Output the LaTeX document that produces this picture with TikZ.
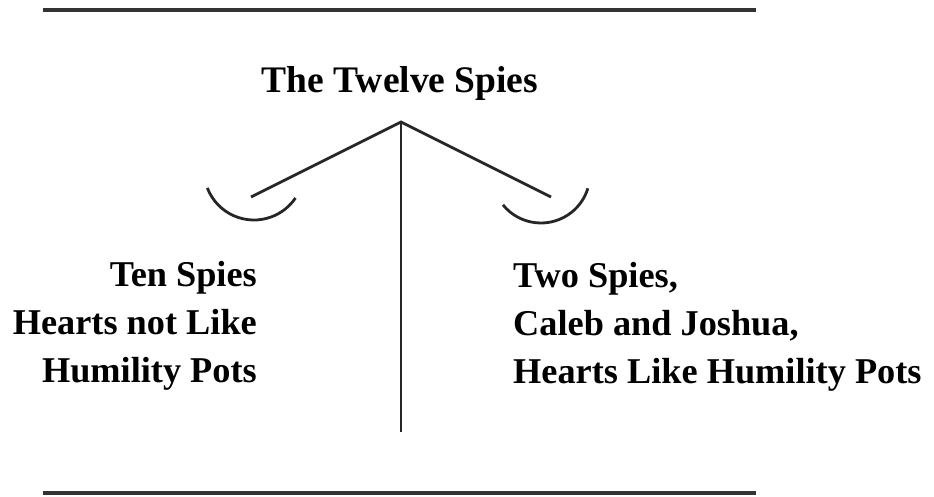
\documentclass[tikz,border=0pt]{standalone}
\usepackage{fontspec}
\setmainfont{Liberation Serif}
\begin{document}
\begin{tikzpicture}[x=1pt, y=-1pt,
    rule/.style={line width=4pt, black!80},
    beam/.style={line width=2.8pt, black!85},
    label/.style={font=\bfseries\fontsize{36.3}{48}\selectfont, inner sep=0pt}]
    \useasboundingbox (0,0) rectangle (934,496);

    % Rules above and below
    \draw[rule] (43,10) -- (756,10);
    \draw[rule] (43,493) -- (756,493);

    % Title
    \node[label, font=\bfseries\fontsize{37.5}{48}\selectfont, anchor=base] (title) at (400,92) {The Twelve Spies};

    % Balance
    \coordinate (apex) at (401,122);
    \coordinate (foot) at (401,432);
    \coordinate (leftend) at (251,197);
    \coordinate (rightend) at (551,197);
    \draw[beam] (apex) -- (foot);
    \draw[beam] (leftend) -- (apex) -- (rightend);

    % Pans
    \draw[beam] (254,170) ++(159:50) arc[start angle=159, end angle=34, radius=50];
    \draw[beam] (541,174) ++(141:49) arc[start angle=141, end angle=17, radius=49];

    % Labels for pans
    \node[label, align=right, anchor=north east] (ten) at (257,261)
        {Ten Spies\\Hearts not Like\\Humility Pots};
    \node[label, align=left, anchor=north west] (two) at (513,262)
        {Two Spies,\\Caleb and Joshua,\\Hearts Like Humility Pots};
\end{tikzpicture}
\end{document}
